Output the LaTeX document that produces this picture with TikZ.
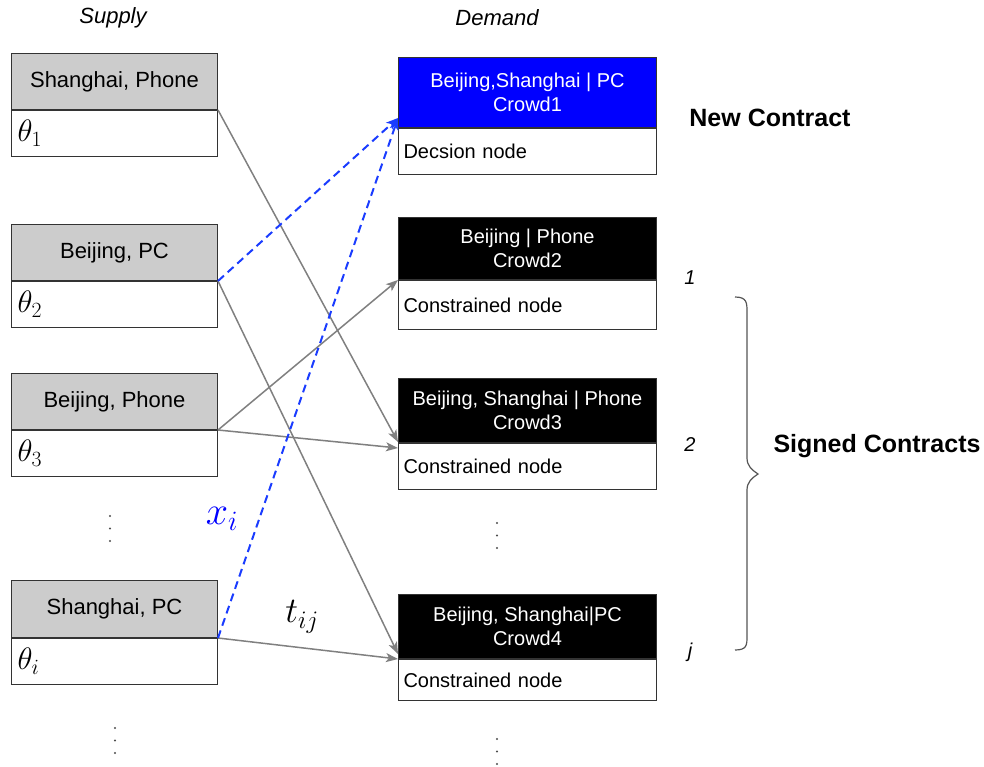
\RequirePackage{fix-cm}
\documentclass[tikz,border=0pt]{standalone}
\usepackage{fontspec}
\setmainfont{Liberation Sans}
\usetikzlibrary{arrows.meta,calc}
\definecolor{hdrgray}{HTML}{CCCCCC}
\definecolor{linegray}{HTML}{808080}
\definecolor{dblue}{HTML}{0000FF}
\definecolor{ablue}{HTML}{1A3CFF}
\definecolor{bord}{HTML}{333333}
\definecolor{bracegray}{HTML}{555555}
\begin{document}
\begin{tikzpicture}[x=1pt,y=-1pt,
  box/.style={draw=bord, line width=1pt, rectangle, inner sep=0pt, anchor=north west},
  suphead/.style={box, fill=hdrgray, minimum width=206pt, minimum height=56pt, font=\fontsize{22}{26}\selectfont},
  supbody/.style={box, fill=white, minimum width=206pt, text width=194pt, inner xsep=6pt, minimum height=46pt, align=left, font=\fontsize{31}{31}\selectfont},
  demhead/.style={box, fill=black, text=white, minimum width=258pt, align=center, font=\fontsize{20}{24}\selectfont},
  dembody/.style={box, fill=white, minimum width=258pt, text width=248pt, inner xsep=5pt, align=left, font=\fontsize{20}{24}\selectfont},
  conn/.style={draw=linegray, line width=1.5pt, -{Stealth[length=12pt,width=9pt,inset=3pt]}},
  bconn/.style={draw=ablue, line width=2pt, dash pattern=on 8pt off 5pt, -{Stealth[length=12pt,width=9pt,inset=3pt]}},
  ititle/.style={font=\fontsize{22}{26}\selectfont\itshape},
  btitle/.style={font=\fontsize{25}{30}\selectfont\bfseries},
  idx/.style={font=\fontsize{20}{24}\selectfont\itshape},
  dotfill/.style={fill=black!70}
]
\useasboundingbox (0,0) rectangle (984,767);

% titles
\node[ititle] (tsup) at (113,18) {Supply};
\node[ititle] (tdem) at (497,18) {Demand};

% supply boxes
\node[suphead] (s1h) at (11,53) {Shanghai, Phone};
\node[supbody] (s1b) at (s1h.south west) {$\theta_1$};
\node[suphead] (s2h) at (11,224) {Beijing, PC};
\node[supbody] (s2b) at (s2h.south west) {$\theta_2$};
\node[suphead] (s3h) at (11,373) {Beijing, Phone};
\node[supbody] (s3b) at (s3h.south west) {$\theta_3$};
\node[suphead, minimum height=57pt] (sih) at (11,580) {Shanghai, PC};
\node[supbody] (sib) at (sih.south west) {$\theta_i$};

% demand boxes
\node[demhead, fill=dblue, minimum height=70pt] (d1h) at (398,57) {Beijing,Shanghai | PC\\Crowd1};
\node[dembody, minimum height=46pt] (d1b) at (d1h.south west) {Decsion node};
\node[demhead, minimum height=62pt] (d2h) at (398,217) {Beijing | Phone\\Crowd2};
\node[dembody, minimum height=49pt] (d2b) at (d2h.south west) {Constrained node};
\node[demhead, minimum height=64pt] (d3h) at (398,378) {Beijing, Shanghai | Phone\\Crowd3};
\node[dembody, minimum height=46pt] (d3b) at (d3h.south west) {Constrained node};
\node[demhead, minimum height=64pt] (d4h) at (398,594) {Beijing, Shanghai|PC\\Crowd4};
\node[dembody, minimum height=41pt] (d4b) at (d4h.south west) {Constrained node};

% connectors
\draw[conn] (s1b.north east) -- ([yshift=1pt]d3b.north west);
\draw[conn] (s2b.north east) -- ([yshift=5pt]d4b.north west);
\draw[conn] (s3b.north east) -- (d2b.north west);
\draw[conn] (s3b.north east) -- ([yshift=-5pt]d3b.north west);
\draw[conn] (sib.north east) -- (d4b.north west);
\draw[bconn] (s2b.north east) -- ([yshift=10pt]d1b.north west);
\draw[bconn] (sib.north east) -- ([yshift=10pt]d1b.north west);

% edge labels
\node[text=dblue, font=\fontsize{40}{40}\selectfont] (lx) at (222,519) {$x_i$};
\node[font=\fontsize{36}{36}\selectfont] (lt) at (302,617) {$t_{ij}$};

% right side labels
\node[btitle] (newc) at (770,118) {New Contract};
\node[idx] (i1) at (690,278) {1};
\node[idx] (i2) at (690,445) {2};
\node[idx] (ij) at (690,652) {j};
\node[btitle] (signed) at (877,446) {Signed Contracts};

% brace
\draw[bracegray, line width=1.2pt] (735,297) .. controls (747,297) and (747,303) .. (747,312) -- (747,458) .. controls (747,466) and (752,470) .. (758,474) .. controls (752,478) and (747,482) .. (747,490) -- (747,636) .. controls (747,645) and (747,650) .. (735,650);

% vertical dots
\foreach \yy in {516,528.5,541} \fill[dotfill] (110,\yy) circle (1.2pt);
\foreach \yy in {728,740.5,753} \fill[dotfill] (115,\yy) circle (1.2pt);
\foreach \yy in {523,535.5,548} \fill[dotfill] (497,\yy) circle (1.2pt);
\foreach \yy in {739,751.5,764} \fill[dotfill] (497,\yy) circle (1.2pt);
\end{tikzpicture}
\end{document}
